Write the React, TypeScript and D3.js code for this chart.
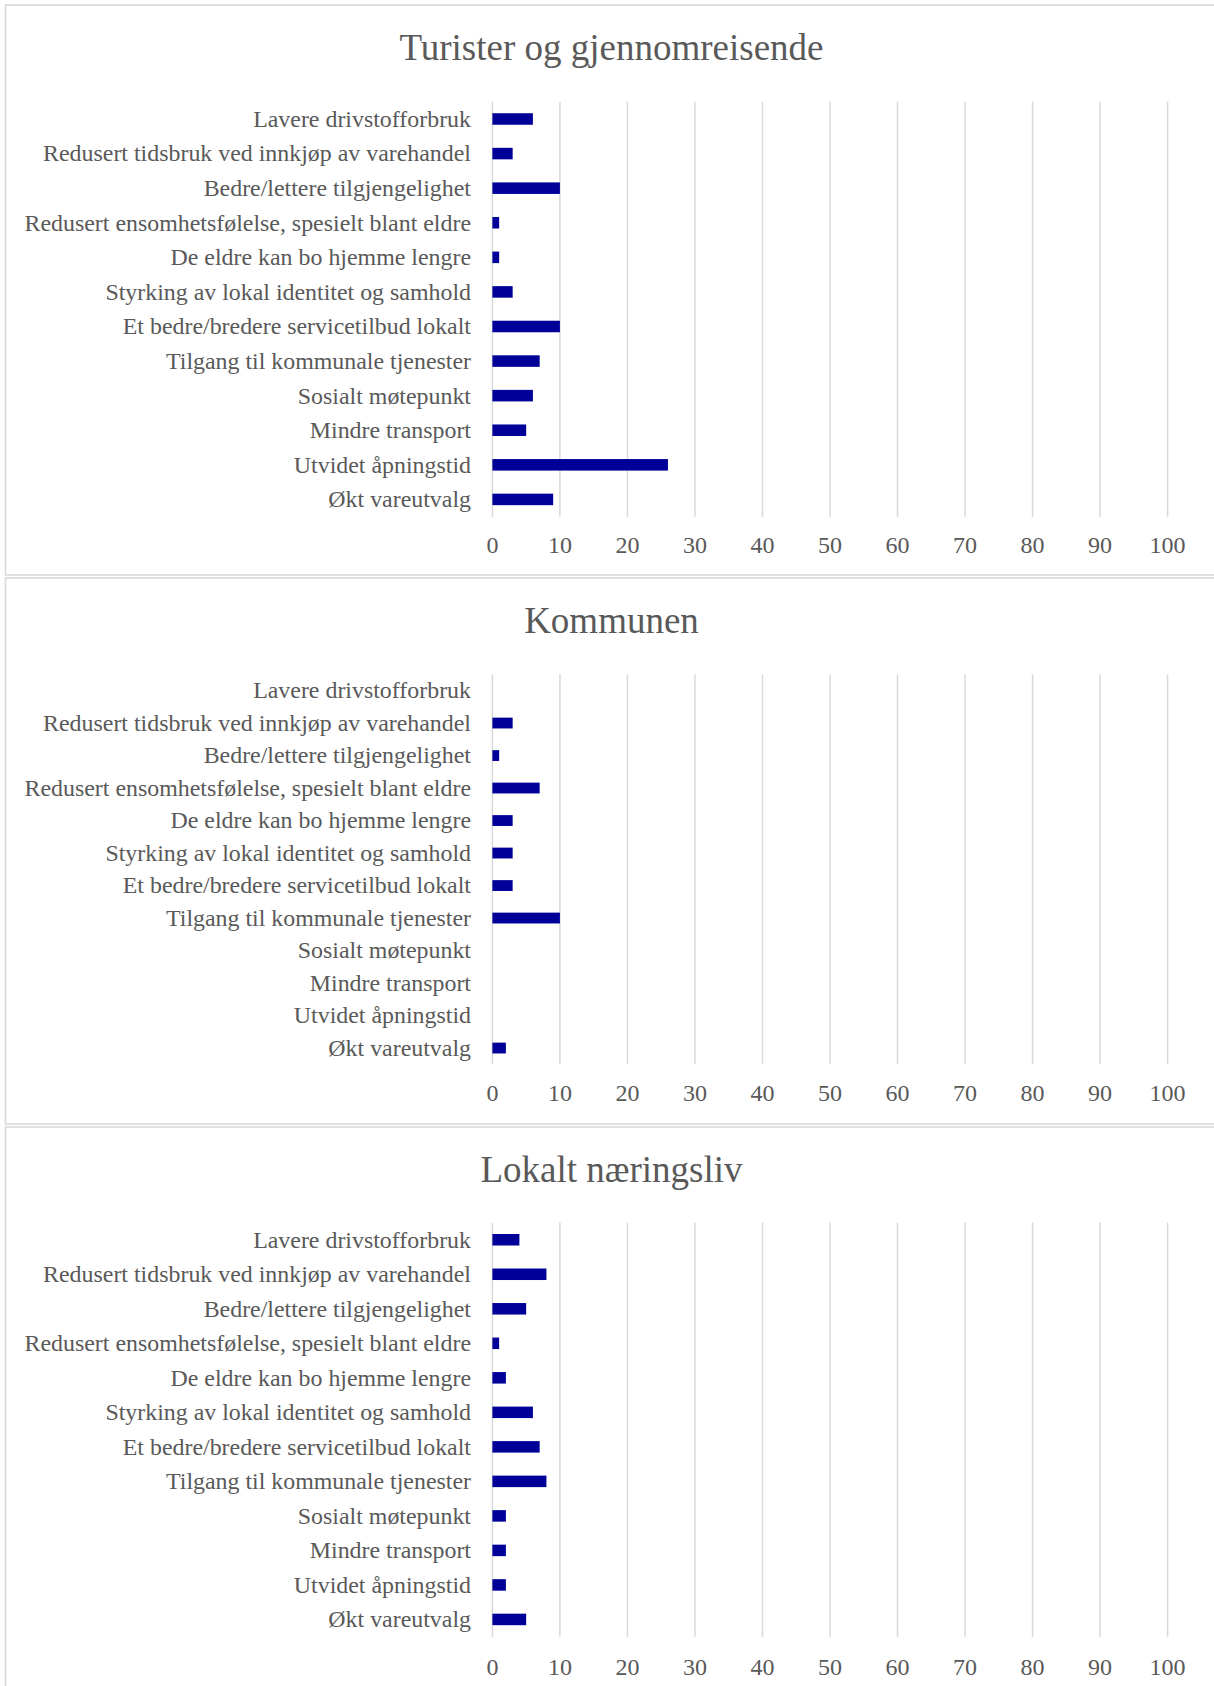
import React, { useEffect, useRef } from "react";
import * as d3 from "d3";

// categories top to bottom, as shown in every panel
const categories = [
  "Lavere drivstofforbruk",
  "Redusert tidsbruk ved innkjøp av varehandel",
  "Bedre/lettere tilgjengelighet",
  "Redusert ensomhetsfølelse, spesielt blant eldre",
  "De eldre kan bo hjemme lengre",
  "Styrking av lokal identitet og samhold",
  "Et bedre/bredere servicetilbud lokalt",
  "Tilgang til kommunale tjenester",
  "Sosialt møtepunkt",
  "Mindre transport",
  "Utvidet åpningstid",
  "Økt vareutvalg",
];

const panelTitles = ["Turister og gjennomreisende", "Kommunen", "Lokalt næringsliv"];

const turisterValues = [6, 3, 10, 1, 1, 3, 10, 7, 6, 5, 26, 9];
const kommunenValues = [0, 3, 1, 7, 3, 3, 3, 10, 0, 0, 0, 2];
const naeringslivValues = [4, 8, 5, 1, 2, 6, 7, 8, 2, 2, 2, 5];

const xTicks = [0, 10, 20, 30, 40, 50, 60, 70, 80, 90, 100];

const W = 1214;
const H = 1686;
const FONT = "'Liberation Serif', 'Times New Roman', serif";

// vertical layout of each panel
const panels = [
  { values: turisterValues, top: 5, bottom: 575, titleY: 60, plotTop: 101.7, plotBottom: 516.7, tickY: 545 },
  { values: kommunenValues, top: 578, bottom: 1124, titleY: 633, plotTop: 674.3, plotBottom: 1064.3, tickY: 1093 },
  { values: naeringslivValues, top: 1127, bottom: 1700, titleY: 1182, plotTop: 1222.5, plotBottom: 1636.7, tickY: 1667 },
];

export default function App() {
  const el = useRef<SVGSVGElement | null>(null);

  useEffect(() => {
    const svg = d3.select(el.current);
    svg.selectAll("*").remove();

    const x = d3.scaleLinear().domain([0, 100]).range([492.4, 1167.6]);

    panels.forEach((p, i) => {
      const g = svg.append("g");

      g.append("rect")
        .attr("x", 5.5)
        .attr("y", p.top)
        .attr("width", 1230)
        .attr("height", p.bottom - p.top)
        .attr("fill", "#fff")
        .attr("stroke", "#d9d9d9")
        .attr("stroke-width", 1.6);

      g.append("text")
        .attr("x", 611.5)
        .attr("y", p.titleY)
        .attr("text-anchor", "middle")
        .attr("font-family", FONT)
        .attr("font-size", 37)
        .attr("fill", "#595959")
        .text(panelTitles[i]);

      const y = d3.scaleBand<string>()
        .domain(categories)
        .range([p.plotTop, p.plotBottom])
        .paddingInner(2 / 3)
        .paddingOuter(1 / 3);

      // vertical gridlines
      g.selectAll("line.grid")
        .data(xTicks)
        .join("line")
        .attr("class", "grid")
        .attr("x1", d => x(d))
        .attr("x2", d => x(d))
        .attr("y1", p.plotTop)
        .attr("y2", p.plotBottom)
        .attr("stroke", "#d9d9d9")
        .attr("stroke-width", 1.5);

      // tick labels
      g.selectAll("text.tick")
        .data(xTicks)
        .join("text")
        .attr("class", "tick")
        .attr("x", d => x(d))
        .attr("y", p.tickY)
        .attr("dy", "0.35em")
        .attr("text-anchor", "middle")
        .attr("font-family", FONT)
        .attr("font-size", 24)
        .attr("fill", "#595959")
        .text(d => d);

      // category labels
      g.selectAll("text.cat")
        .data(categories)
        .join("text")
        .attr("class", "cat")
        .attr("x", 471)
        .attr("y", d => (y(d) as number) + y.bandwidth() / 2)
        .attr("dy", "0.33em")
        .attr("text-anchor", "end")
        .attr("font-family", FONT)
        .attr("font-size", 23.9)
        .attr("fill", "#595959")
        .text(d => d);

      // bars
      g.selectAll("rect.bar")
        .data(p.values.map((v, k) => ({ cat: categories[k], v })).filter(d => d.v > 0))
        .join("rect")
        .attr("class", "bar")
        .attr("x", x(0))
        .attr("y", d => y(d.cat) as number)
        .attr("width", d => x(d.v) - x(0))
        .attr("height", y.bandwidth())
        .attr("fill", "#000099");
    });
  }, []);

  return (
    <svg
      ref={el}
      width={W}
      height={H}
      style={{ position: "absolute", left: 0, top: 0, background: "#fff" }}
    />
  );
}
